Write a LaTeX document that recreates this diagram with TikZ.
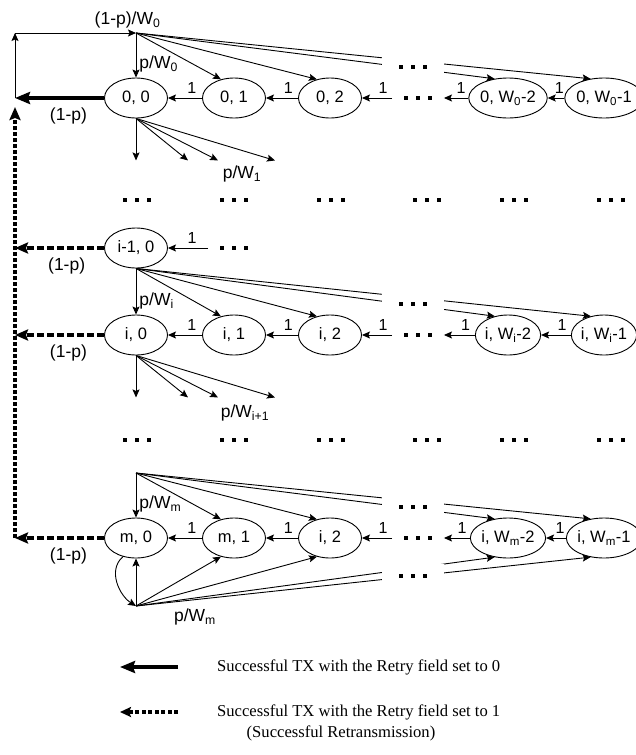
\documentclass[tikz,border=0pt]{standalone}
\usepackage{fontspec}
\setmainfont{Liberation Sans}
\newfontfamily\legendfont{Liberation Serif}
\usetikzlibrary{arrows.meta,calc,shapes.geometric}

\def\Ww#1{W\textsubscript{#1}}
\def\dts{\rule{3.5pt}{3.5pt}\hspace{8.5pt}\rule{3.5pt}{3.5pt}\hspace{8.5pt}\rule{3.5pt}{3.5pt}}

\begin{document}
\begin{tikzpicture}[x=1pt,y=-1pt,
    state/.style={draw,ellipse,line width=0.9pt,minimum width=63pt,minimum height=40pt,
      inner sep=0pt,font=\fontsize{16.5}{18}\selectfont},
    dotsbox/.style={inner xsep=12pt,inner ysep=2pt},
    gapbox/.style={fill=white,minimum width=62pt,minimum height=24pt,inner sep=0pt},
    lab/.style={font=\fontsize{17.5}{19}\selectfont,inner sep=1pt},
    one/.style={above,pos=0.3,font=\fontsize{16}{18}\selectfont,inner sep=4pt},
    arr/.style={line width=0.9pt,-{Stealth[length=8pt,width=7pt,inset=1.5pt]}},
    thk/.style={line width=4pt,-{Stealth[length=15pt,width=12pt,inset=2pt]}},
    dsh/.style={line width=4pt,dash pattern=on 7pt off 3pt,-{Stealth[length=13pt,width=11pt,inset=2pt]}},
    dshv/.style={line width=4pt,dash pattern=on 4pt off 2pt,-{Stealth[length=13pt,width=11pt,inset=2pt]}},
    legtext/.style={font=\legendfont\fontsize{16.6}{18}\selectfont,inner sep=0pt}
    ]
    \useasboundingbox (0,0) rectangle (636,755);

    % row 0
    \node[state] (n00) at (136,98) {0, 0};
    \node[state] (n01) at (234,98) {0, 1};
    \node[state] (n02) at (330,98) {0, 2};
    \node[dotsbox] (dr0) at (418,98) {\dts};
    \node[state] (n03) at (508,98) {0, \Ww{0}-2};
    \node[state] (n04) at (604,98) {0, \Ww{0}-1};
    \foreach \a/\b in {n01/n00,n02/n01,dr0/n02,n03/dr0,n04/n03}
      \draw[arr] (\a) -- (\b) node[one] {1};

    % row i-1
    \node[state] (im1) at (136,248) {i-1, 0};
    \node[dotsbox] (dim1) at (234,248) {\dts};
    \draw[arr] (dim1) -- (im1) node[one,pos=0.4] {1};

    % row i
    \node[state] (ni0) at (136,335) {i, 0};
    \node[state] (ni1) at (234,335) {i, 1};
    \node[state] (ni2) at (330,335) {i, 2};
    \node[dotsbox] (dri) at (418,335) {\dts};
    \node[state] (ni3) at (508,335) {i, \Ww{i}-2};
    \node[state] (ni4) at (604,335) {i, \Ww{i}-1};
    \foreach \a/\b in {ni1/ni0,ni2/ni1,dri/ni2,ni3/dri,ni4/ni3}
      \draw[arr] (\a) -- (\b) node[one] {1};

    % row m
    \node[state] (nm0) at (136,538) {m, 0};
    \node[state] (nm1) at (234,538) {m, 1};
    \node[state] (nm2) at (330,538) {i, 2};
    \node[dotsbox] (drm) at (418,538) {\dts};
    \node[state] (nm3) at (508,538) {i, \Ww{m}-2};
    \node[state] (nm4) at (604,538) {i, \Ww{m}-1};
    \foreach \a/\b in {nm1/nm0,nm2/nm1,drm/nm2,nm3/drm,nm4/nm3}
      \draw[arr] (\a) -- (\b) node[one] {1};

    % rows of dots
    \foreach \y in {200,440}
      \foreach \x in {137,234,331,427,514,611}
        \node[inner sep=0pt] at (\x,\y) {\dts};

    % left side
    \coordinate (top) at (136,33);
    \coordinate (tl) at (15,33);
    \coordinate (hub) at (15,98);
    \coordinate (dhub) at (15,107);
    \coordinate (dim1w) at (15,248);
    \coordinate (diw) at (15,335);
    \coordinate (dmw) at (15,538);
    \coordinate (mtop) at (136,473);
    \coordinate (mbot) at (136,606);

    \draw[thk] (n00) -- (hub) node[lab,below=7pt,pos=0.4] {(1-p)};
    \draw[arr] (hub) -- (tl);
    \draw[arr] (tl) -- (top) node[lab,above=3pt,pos=0.93] {(1-p)/\Ww{0}};
    \draw[dsh] (im1) -- (dim1w) node[lab,below=7pt,pos=0.42] {(1-p)};
    \draw[dsh] (ni0) -- (diw) node[lab,below=7pt,pos=0.4] {(1-p)};
    \draw[dsh] (nm0) -- (dmw) node[lab,below=7pt,pos=0.4] {(1-p)};
    \draw[dshv] (dmw) -- (dhub);

    % fan into row 0
    \draw[arr] (top) -- (n00) node[lab,right=2pt,pos=0.7] {p/\Ww{0}};
    \foreach \t in {n01,n02,n03,n04}
      \draw[arr] (top) -- (\t.125);
    \node[gapbox] (gap0) at (413,67) {\dts};

    % fan out of row 0
    \foreach \dx/\k in {0/a,52/b,82/c,139/d}
      \coordinate (f0\k) at ($(n00.south)+(\dx,42)$);
    \foreach \k in {a,b,c,d}
      \draw[arr] (n00.south) -- (f0\k);
    \node[lab] (pw1) at (242,174) {p/\Ww{1}};

    % fan into row i
    \draw[arr] (im1) -- (ni0) node[lab,right=2pt,pos=0.7] {p/\Ww{i}};
    \foreach \t in {ni1,ni2,ni3,ni4}
      \draw[arr] (im1.south) -- (\t.125);
    \node[gapbox] (gapi) at (413,304) {\dts};

    % fan out of row i
    \foreach \dx/\k in {0/a,52/b,82/c,139/d}
      \coordinate (fi\k) at ($(ni0.south)+(\dx,42)$);
    \foreach \k in {a,b,c,d}
      \draw[arr] (ni0.south) -- (fi\k);
    \node[lab] (pwi1) at (245,413) {p/\Ww{i+1}};

    % fans of row m
    \draw[arr] (mtop) -- (nm0) node[lab,right=2pt,pos=0.7] {p/\Ww{m}};
    \foreach \t in {nm1,nm2,nm3,nm4}
      \draw[arr] (mtop) -- (\t.125);
    \node[gapbox] (gapm) at (413,507) {\dts};
    \draw[arr] (mbot) -- (nm0);
    \foreach \t in {nm1,nm2,nm3,nm4}
      \draw[arr] (mbot) -- (\t.235);
    \node[gapbox] (gapb) at (413,576) {\dts};
    \draw[arr] (nm0.235) .. controls +(-16,14) and +(-16,-10) .. (mbot);
    \node[lab] (pwm) at (195,617) {p/\Ww{m}};

    % legend
    \coordinate (k1a) at (178,667);
    \coordinate (k1b) at (120,667);
    \draw[thk] (k1a) -- (k1b);
    \node[legtext,anchor=west] (t1) at (217,667) {Successful TX with the Retry field set to 0};
    \coordinate (k2a) at (178,712);
    \coordinate (k2b) at (120,712);
    \draw[line width=4pt,dash pattern=on 4pt off 2.5pt,-{Stealth[length=11pt,width=10pt,inset=2pt]}] (k2a) -- (k2b);
    \node[legtext,anchor=west] (t2) at (217,712) {Successful TX with the Retry field set to 1};
    \node[legtext] (t3) at (341,733) {(Successful Retransmission)};
  \end{tikzpicture}
\end{document}
